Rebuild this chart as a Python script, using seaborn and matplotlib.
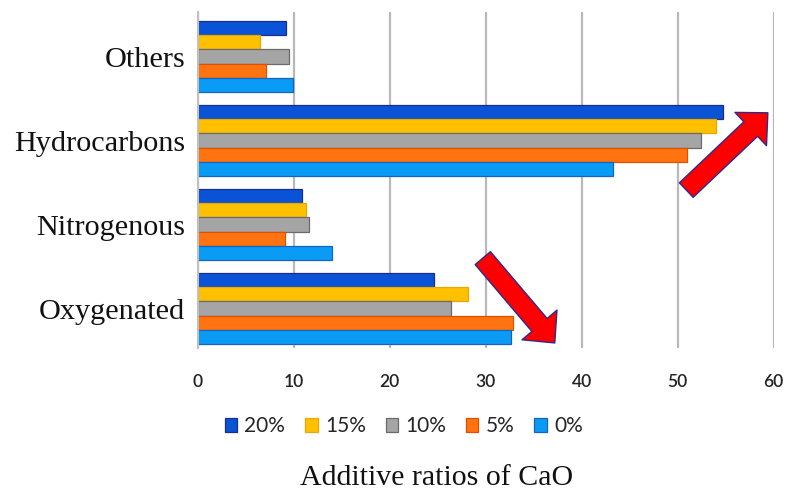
import matplotlib
matplotlib.use("Agg")
import matplotlib.pyplot as plt
import pandas as pd
import seaborn as sns

# Product distribution (%) by compound class for each CaO additive ratio
categories = ["Others", "Hydrocarbons", "Nitrogenous", "Oxygenated"]
ratios = ["20%", "15%", "10%", "5%", "0%"]
vals_20 = [9.2, 54.7, 10.9, 24.6]
vals_15 = [6.5, 54.0, 11.3, 28.2]
vals_10 = [9.5, 52.4, 11.6, 26.4]
vals_5 = [7.1, 51.0, 9.1, 32.8]
vals_0 = [9.9, 43.3, 14.0, 32.6]
x_ticks = [0, 10, 20, 30, 40, 50, 60]

face_colors = ["#0a52d6", "#ffc000", "#a5a5a5", "#ff7410", "#0a9bf5"]
edge_colors = ["#1b2f8a", "#e8a800", "#6b6b6b", "#e05000", "#1565c0"]

series = [vals_20, vals_15, vals_10, vals_5, vals_0]
df = pd.DataFrame(
    [(c, r, v) for r, vals in zip(ratios, series) for c, v in zip(categories, vals)],
    columns=["category", "ratio", "value"],
)

sns.set_style("white")
fig = plt.figure(figsize=(7.87, 4.90), dpi=100)
ax = fig.add_axes([0.2512, 0.2898, 0.7318, 0.6857])

sns.barplot(
    data=df, y="category", x="value", hue="ratio",
    order=categories, hue_order=ratios,
    palette=face_colors, saturation=1, width=0.845, orient="h",
    errorbar=None, ax=ax, legend=True, linewidth=0.9,
)
for cont, ec in zip(ax.containers, edge_colors):
    for bar in cont:
        bar.set_edgecolor(ec)

ax.set_xlim(0, 60)
ax.set_ylim(3.47, -0.53)
ax.set_xticks(x_ticks)
ax.set_xticklabels([str(t) for t in x_ticks], fontfamily="Lato", fontsize=12.5,
                   color="#222222", fontweight="semibold")
ax.set_yticks(range(len(categories)))
ax.set_yticklabels(categories, fontfamily="Liberation Serif", fontsize=21.8, color="#111111")
ax.tick_params(axis="y", length=0, pad=9)
ax.tick_params(axis="x", length=0, pad=19)
ax.xaxis.grid(True, color="#b8b8b8", linewidth=1.6)
ax.set_axisbelow(True)
for side in ["top", "right", "bottom"]:
    ax.spines[side].set_visible(False)
ax.spines["left"].set_color("#c0c0c0")
ax.spines["left"].set_linewidth(1.5)
ax.set_xlabel("")
ax.set_ylabel("")

handles, labels = ax.get_legend_handles_labels()
ax.legend_.remove()
for h, ec in zip(handles, edge_colors):
    h.set_edgecolor(ec)
fig.legend(
    handles, labels, loc="center", bbox_to_anchor=(0.513, 0.13),
    ncol=5, frameon=False, handlelength=0.6, handleheight=0.6,
    handletextpad=0.35, columnspacing=0.95,
    prop={"family": "Lato", "size": 15},
)

fig.text(0.555, 0.025, "Additive ratios of CaO", ha="center", va="center",
         fontfamily="Liberation Serif", fontsize=21.5, color="#111111")

# Trend arrows
arrow_style = "simple,head_length=1.7,head_width=3.3,tail_width=1.44"
for tail, tip in [((50.9, 1.59), (59.4, 0.67)), ((29.7, 2.40), (37.2, 3.41))]:
    ax.annotate(
        "", xy=tip, xytext=tail, xycoords="data", textcoords="data",
        annotation_clip=False,
        arrowprops=dict(arrowstyle=arrow_style, mutation_scale=10,
                        fc="#ff0000", ec="#2e2a8c", lw=1.0,
                        shrinkA=0, shrinkB=0),
    )

fig.savefig("out.png", dpi=100)
